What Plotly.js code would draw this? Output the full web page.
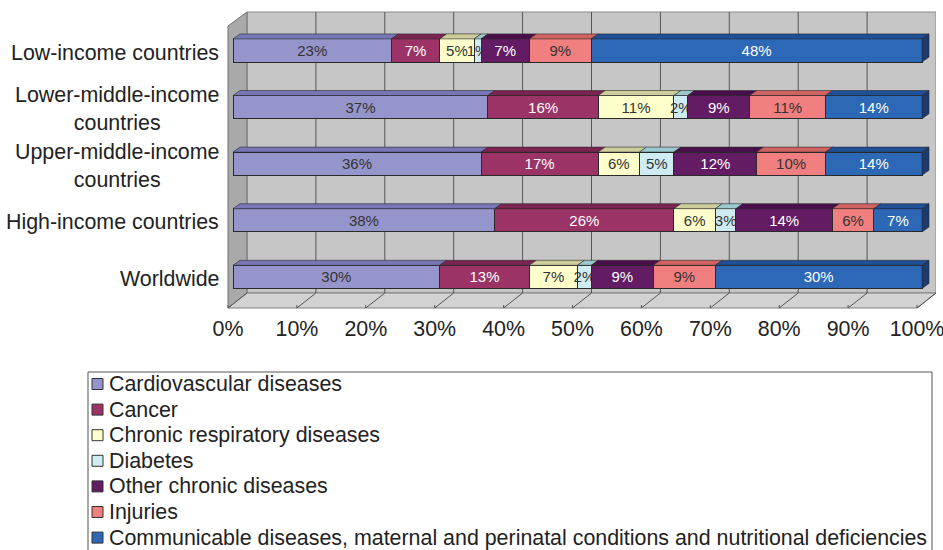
<!DOCTYPE html>
<html>
<head>
<meta charset="utf-8">
<script src="https://cdn.plot.ly/plotly-3.0.1.min.js"></script>
<style>html,body{margin:0;padding:0;background:#fff;}#chart{width:943px;height:550px;}</style>
</head>
<body>
<div id="chart"></div>
<script>
// ---------- data ----------
const categories = ['Low-income countries', 'Lower-middle-income<br>countries', 'Upper-middle-income<br>countries', 'High-income countries', 'Worldwide'];
const seriesNames = ['Cardiovascular diseases', 'Cancer', 'Chronic respiratory diseases', 'Diabetes', 'Other chronic diseases', 'Injuries', 'Communicable diseases, maternal and perinatal conditions and nutritional deficiencies'];
const cardiovascular = [23, 37, 36, 38, 30];
const cancer = [7, 16, 17, 26, 13];
const respiratory = [5, 11, 6, 6, 7];
const diabetes = [1, 2, 5, 3, 2];
const otherChronic = [7, 9, 12, 14, 9];
const injuries = [9, 11, 10, 6, 9];
const communicable = [48, 14, 14, 7, 30];
const xTickValues = [0, 10, 20, 30, 40, 50, 60, 70, 80, 90, 100];
const xTickLabels = ['0%', '10%', '20%', '30%', '40%', '50%', '60%', '70%', '80%', '90%', '100%'];

// ---------- styles ----------
const frontColors = ['#9595cb', '#9b3366', '#ffffcc', '#cfecf2', '#631c63', '#f27f7f', '#2c68b6'];
const topColors = ['#7777b6', '#7b2451', '#cdcd9c', '#9cc9cf', '#4a0f4a', '#d06262', '#1f4f96'];
const sideColor = '#1c3a6c';
const textColors = ['#333', '#fff', '#333', '#333', '#fff', '#333', '#fff'];
const FONT = 'Liberation Sans, Arial, Helvetica, sans-serif';
const LABEL_SIZE = 21.4;

const seriesValues = [cardiovascular, cancer, respiratory, diabetes, otherChronic, injuries, communicable];
const positions = categories.map((c, i) => i);

// pixel geometry helpers
const X0PX = 233, PXX = 6.89;      // x=0 pixel, pixels per 1%
const Y0PX = 50.5, PXY = 56.6;     // first bar centre pixel, pixels per category
const PL = 226, PR = 936, PT = 10, PB = 310;
const xv = p => (p - X0PX) / PXX;
const yv = p => (p - Y0PX) / PXY;
const px = p => (p - PL) / (PR - PL);
const py = p => (PB - p) / (PB - PT);
const BARW = 0.41;
const dx = 7 / PXX, dy = 5 / PXY;
const backDx = 14 / PXX, frontDx = -5 / PXX;
const wallTop = yv(12), floorBack = yv(293), floorFront = yv(308), leftWallTop = yv(26);

const traces = seriesValues.map((vals, s) => ({
  type: 'bar', orientation: 'h', name: seriesNames[s],
  x: vals, y: positions, width: BARW,
  marker: {color: frontColors[s], line: {color: '#2a2a2a', width: 1}},
  text: vals.map(v => v + '%'), textposition: 'inside', insidetextanchor: 'middle', textangle: 0,
  textfont: {family: FONT, size: 15, color: textColors[s]},
  hoverinfo: 'skip', showlegend: false
}));

const shapes = [];
// back wall
shapes.push({type: 'rect', xref: 'x', yref: 'y', layer: 'below', x0: backDx, x1: 100 + backDx, y0: wallTop, y1: floorBack,
  fillcolor: '#c6c6c6', line: {color: '#8a8a8a', width: 1}});
// left wall
shapes.push({type: 'path', xref: 'x', yref: 'y', layer: 'below',
  path: `M ${frontDx},${floorFront} L ${frontDx},${leftWallTop} L ${backDx},${wallTop} L ${backDx},${floorBack} Z`,
  fillcolor: '#a9a9a9', line: {color: '#707070', width: 1}});
// floor
shapes.push({type: 'path', xref: 'x', yref: 'y', layer: 'below',
  path: `M ${frontDx},${floorFront} L ${100 + frontDx},${floorFront} L ${100 + backDx},${floorBack} L ${backDx},${floorBack} Z`,
  fillcolor: '#d2d2d2', line: {color: '#808080', width: 1}});
// gridlines on back wall and floor ticks
xTickValues.forEach(v => {
  if (v > 0 && v < 100) {
    shapes.push({type: 'line', xref: 'x', yref: 'y', layer: 'below', x0: v + backDx, x1: v + backDx, y0: wallTop, y1: floorBack,
      line: {color: '#555', width: 1}});
  }
  shapes.push({type: 'line', xref: 'x', yref: 'y', layer: 'below', x0: v + frontDx, x1: v + backDx, y0: floorFront, y1: floorBack,
    line: {color: '#555', width: 1}});
  shapes.push({type: 'line', xref: 'x', yref: 'y', layer: 'below', x0: v + frontDx, x1: v + frontDx, y0: floorFront, y1: floorFront - 3 / PXY,
    line: {color: '#555', width: 1}});
});
// 3D top faces and side faces
positions.forEach(i => {
  let cum = 0;
  const yt = i - BARW / 2, yb = i + BARW / 2;
  seriesValues.forEach((vals, s) => {
    const x0 = cum, x1 = cum + vals[i];
    shapes.push({type: 'path', xref: 'x', yref: 'y',
      path: `M ${x0},${yt} L ${x1},${yt} L ${x1 + dx},${yt - dy} L ${x0 + dx},${yt - dy} Z`,
      fillcolor: topColors[s], line: {color: '#2a2a2a', width: 0.6}});
    cum = x1;
  });
  shapes.push({type: 'path', xref: 'x', yref: 'y',
    path: `M ${cum},${yt} L ${cum + dx},${yt - dy} L ${cum + dx},${yb - dy} L ${cum},${yb} Z`,
    fillcolor: sideColor, line: {color: '#2a2a2a', width: 0.6}});
});

// manual legend box
shapes.push({type: 'rect', xref: 'paper', yref: 'paper', x0: px(88), x1: px(932), y0: py(372), y1: py(565),
  fillcolor: 'rgba(0,0,0,0)', line: {color: '#555', width: 1}});

const annotations = [];
categories.forEach((c, i) => {
  annotations.push({xref: 'paper', yref: 'y', x: px(221), y: i, xanchor: 'right', yanchor: 'middle', yshift: -2,
    text: c, align: 'center', showarrow: false, font: {family: FONT, size: LABEL_SIZE, color: '#222'}});
});
const legendY0 = 384, legendStep = 25.6;
seriesNames.forEach((n, s) => {
  const yc = legendY0 + s * legendStep;
  shapes.push({type: 'rect', xref: 'paper', yref: 'paper', x0: px(92), x1: px(103), y0: py(yc - 5.5), y1: py(yc + 5.5),
    fillcolor: frontColors[s], line: {color: '#333', width: 1}});
  annotations.push({xref: 'paper', yref: 'paper', x: px(107), y: py(yc), xanchor: 'left', yanchor: 'middle',
    text: n, showarrow: false, font: {family: FONT, size: LABEL_SIZE, color: '#222'}});
});

const layout = {
  width: 943, height: 550,
  margin: {l: PL, r: 943 - PR, t: PT, b: 550 - PB, pad: 0},
  paper_bgcolor: '#fff', plot_bgcolor: 'rgba(0,0,0,0)',
  barmode: 'stack', bargap: 0,
  showlegend: false,
  uniformtext: {mode: 'show', minsize: 15},
  xaxis: {range: [xv(PL), xv(PR)], tickvals: xTickValues, ticktext: xTickLabels, showgrid: false, zeroline: false,
    showline: false, ticks: '', ticklabelshift: -5, ticklabelstandoff: 4, ticklabeloverflow: 'allow',
    tickfont: {family: FONT, size: LABEL_SIZE, color: '#222'}, fixedrange: true},
  yaxis: {range: [yv(PB), yv(PT)], showticklabels: false, showgrid: false, zeroline: false, showline: false, ticks: '', fixedrange: true},
  shapes: shapes, annotations: annotations
};

Plotly.newPlot('chart', traces, layout, {displayModeBar: false, staticPlot: true});
</script>
</body>
</html>
